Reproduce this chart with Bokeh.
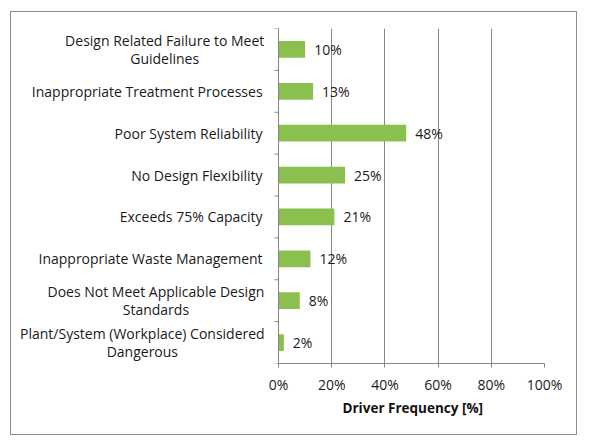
from bokeh.plotting import figure
from bokeh.models import Range1d, FixedTicker, PrintfTickFormatter, ColumnDataSource, Title
from bokeh.core.properties import value
from bokeh.embed import file_html
from bokeh.resources import INLINE

categories = [
    "Design Related Failure to Meet\nGuidelines",
    "Inappropriate Treatment Processes",
    "Poor System Reliability",
    "No Design Flexibility",
    "Exceeds 75% Capacity",
    "Inappropriate Waste Management",
    "Does Not Meet Applicable Design\nStandards",
    "Plant/System (Workplace) Considered\nDangerous",
]
values = [10, 13, 48, 25, 21, 12, 8, 2]
x_ticks = [0, 20, 40, 60, 80, 100]
x_title = "Driver Frequency [%]"

FONT = "Open Sans"
FS = "14px"
GRAY = "#868686"
GREEN = "#8BC04F"
TXT = "#1a1a1a"

n = len(categories)
ypos = [n - i - 0.5 for i in range(n)]

# the frame also holds the category-label area (left of 0%)
X_LEFT = -100.4
p = figure(width=567, height=424, output_backend="svg", toolbar_location=None,
           x_range=Range1d(X_LEFT, 100), y_range=Range1d(0, n),
           min_border_left=0, min_border_right=34,
           min_border_top=16, min_border_bottom=73)
p.styles = {"margin-left": "10px", "margin-top": "11px", "border": "1px solid #8c8c8c"}
p.outline_line_color = None
p.background_fill_color = "white"
p.border_fill_color = "white"

src = ColumnDataSource(dict(y=ypos, v=values, lab=[f"{v}%" for v in values]))
p.hbar(y="y", left=0, right="v", height=0.4, source=src, fill_color=GREEN, line_color=None)
p.text(x="v", y="y", text="lab", source=src, x_offset=9, text_align="left",
       text_baseline="middle", text_font=value(FONT), text_font_size=FS, text_color=TXT)

# x axis (limited to 0..100)
xa = p.xaxis[0]
xa.bounds = (0, 100)
xa.ticker = FixedTicker(ticks=x_ticks)
xa.formatter = PrintfTickFormatter(format="%d%%")
xa.axis_line_color = GRAY
xa.major_tick_line_color = GRAY
xa.major_tick_out = 4
xa.major_tick_in = 0
xa.minor_tick_line_color = None
xa.major_label_text_font = FONT
xa.major_label_text_font_size = FS
xa.major_label_text_color = TXT
xa.major_label_standoff = 7

# x-axis title, centred under the 0..100 part of the frame
p.add_layout(Title(text=x_title, align="left", offset=331, standoff=0,
                   text_font=FONT, text_font_size="13.5px", text_font_style="bold",
                   text_color="#111111"), "below")

p.yaxis.visible = False
p.xgrid.ticker = FixedTicker(ticks=x_ticks)
p.xgrid.grid_line_color = GRAY
p.ygrid.grid_line_color = None

# category axis line and boundary tick marks
TICK = 1.5  # tick length in x data units (about 4 px)
bounds_y = list(range(n + 1))
p.segment(x0=[0], y0=[0], x1=[0], y1=[n], line_color=GRAY, line_width=1)
p.segment(x0=[-TICK] * len(bounds_y), y0=bounds_y, x1=[0] * len(bounds_y), y1=bounds_y,
          line_color=GRAY, line_width=1)

# category labels: single-line right-aligned, wrapped ones centred
single = [i for i, c in enumerate(categories) if "\n" not in c]
p.text(x=[-6.0] * len(single), y=[ypos[i] for i in single], text=[categories[i] for i in single],
       text_align="right", text_baseline="middle", text_font=value(FONT),
       text_font_size=FS, text_color=TXT)
wrap_centres = {0: -42.8, 6: -46.1, 7: -51.2}
wi = list(wrap_centres)
p.text(x=[wrap_centres[i] for i in wi], y=[ypos[i] for i in wi], text=[categories[i] for i in wi],
       text_align="center", text_baseline="middle", text_font=value(FONT),
       text_font_size=FS, text_color=TXT, text_line_height=0.98)

open("out.html", "w").write(file_html(p, INLINE))
